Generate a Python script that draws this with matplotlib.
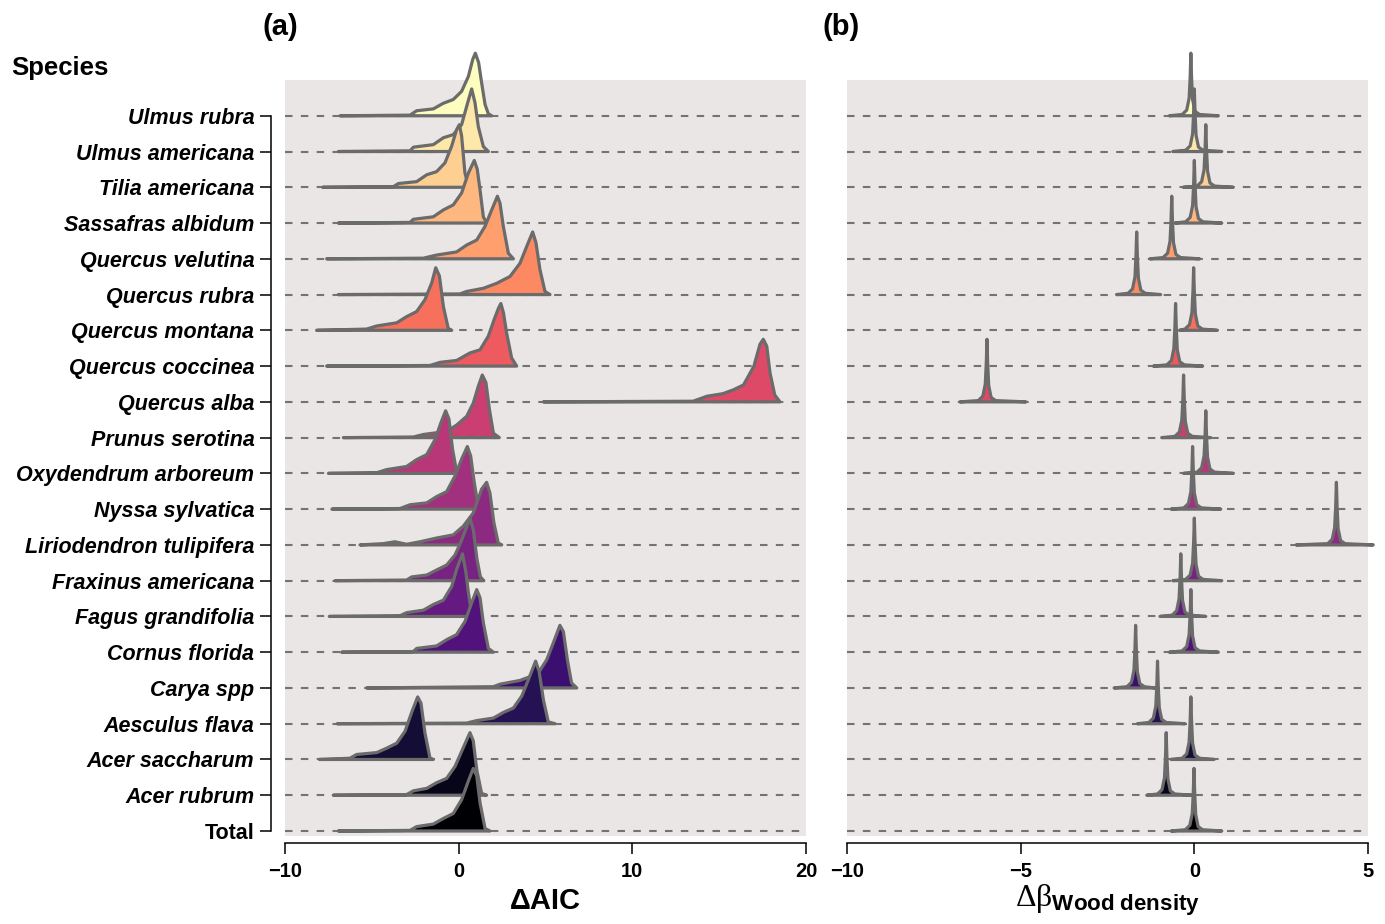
import matplotlib

matplotlib.use("Agg")
import matplotlib.pyplot as plt

plt.rcParams["font.family"] = ["Liberation Sans", "DejaVu Sans"]
plt.rcParams["mathtext.fontset"] = "custom"
plt.rcParams["mathtext.rm"] = "Liberation Serif"
plt.rcParams["mathtext.it"] = "Liberation Serif"
plt.rcParams["mathtext.bf"] = "Liberation Sans:bold"

# rows, bottom to top
SPECIES = ["Total", "Acer rubrum", "Acer saccharum", "Aesculus flava",
           "Carya spp", "Cornus florida", "Fagus grandifolia",
           "Fraxinus americana", "Liriodendron tulipifera", "Nyssa sylvatica",
           "Oxydendrum arboreum", "Prunus serotina", "Quercus alba",
           "Quercus coccinea", "Quercus montana", "Quercus rubra",
           "Quercus velutina", "Sassafras albidum", "Tilia americana",
           "Ulmus americana", "Ulmus rubra"]

# delta AIC ridges: knot positions and relative density (peak = 1)
AIC_X = [
    [-6.93, -2.8, -2.42, -1.46, -0.88, -0.31, 0.17, 0.56, 0.84, 1.04, 1.23, 1.52, 1.8],
    [-7.22, -3.0, -2.61, -1.84, -1.27, -0.69, -0.21, 0.17, 0.65, 0.84, 1.04, 1.32, 1.61],
    [-8.02, -6.26, -5.87, -4.72, -4.15, -3.57, -3.09, -2.71, -2.36, -2.17, -1.94, -1.65, -1.46],
    [-7.0, 0.46, 1.04, 2.0, 2.57, 3.15, 3.63, 4.01, 4.43, 4.63, 4.88, 5.16, 5.55],
    [-5.3, 2.0, 2.38, 3.53, 4.11, 4.68, 5.07, 5.45, 5.83, 6.03, 6.26, 6.5, 6.8],
    [-6.74, -2.61, -2.42, -1.27, -0.69, -0.12, 0.36, 0.75, 1.04, 1.23, 1.42, 1.71, 2.0],
    [-7.45, -3.38, -3.0, -2.03, -1.46, -0.88, -0.4, -0.12, 0.22, 0.42, 0.56, 0.75, 0.9],
    [-7.12, -3.0, -2.7, -1.84, -1.27, -0.69, -0.21, 0.1, 0.45, 0.65, 0.85, 1.05, 1.25, 1.45],
    [-5.68, -4.34, -3.67, -3.0, -2.23, -1.27, -0.31, 0.27, 0.84, 1.32, 1.61, 1.8, 2.03, 2.28, 2.48],
    [-7.3, -3.38, -2.8, -1.84, -1.27, -0.69, -0.21, 0.17, 0.5, 0.69, 0.9, 1.13, 1.32],
    [-7.5, -4.72, -4.15, -3.0, -2.42, -1.84, -1.36, -1.02, -0.75, -0.56, -0.35, -0.12, 0.08],
    [-6.64, -2.61, -2.03, -0.69, -0.12, 0.46, 0.84, 1.13, 1.36, 1.57, 1.77, 2.0, 2.34],
    [4.88, 13.5, 14.3, 15.2, 15.8, 16.4, 17.0, 17.35, 17.54, 17.74, 17.93, 18.2, 18.5],
    [-7.6, -1.65, -1.07, -0.12, 0.65, 1.23, 1.71, 2.05, 2.3, 2.43, 2.58, 2.76, 3.05, 3.34],
    [-8.18, -5.3, -4.72, -3.57, -2.99, -2.42, -1.94, -1.55, -1.32, -1.11, -0.88, -0.6, -0.4],
    [-6.93, 0.08, 0.46, 1.42, 2.19, 2.96, 3.53, 3.92, 4.26, 4.45, 4.68, 4.97, 5.26],
    [-7.6, -2.03, -1.27, -0.12, 0.46, 1.04, 1.52, 1.9, 2.23, 2.38, 2.57, 2.86, 3.15],
    [-6.93, -2.8, -2.61, -1.46, -0.88, -0.31, 0.17, 0.56, 0.9, 1.07, 1.23, 1.42, 1.61],
    [-7.83, -3.76, -3.47, -2.42, -1.84, -1.27, -0.79, -0.4, -0.12, 0.04, 0.17, 0.36, 0.56, 0.66],
    [-6.93, -2.8, -2.6, -1.46, -0.88, -0.31, 0.17, 0.52, 0.75, 0.94, 1.13, 1.42, 1.71],
    [-6.83, -2.8, -2.42, -1.46, -0.88, -0.31, 0.17, 0.56, 0.81, 0.96, 1.15, 1.32, 1.52, 1.71, 1.9],
]
AIC_H = [
    [0, 0.01, 0.07, 0.11, 0.2, 0.28, 0.5, 0.8, 1.0, 0.88, 0.45, 0.04, 0],
    [0, 0.01, 0.07, 0.11, 0.2, 0.27, 0.46, 0.7, 1.0, 0.87, 0.41, 0.03, 0],
    [0, 0.02, 0.08, 0.11, 0.18, 0.26, 0.45, 0.75, 1.0, 0.9, 0.42, 0.02, 0],
    [0, 0.01, 0.05, 0.09, 0.18, 0.25, 0.44, 0.7, 1.0, 0.84, 0.38, 0.03, 0],
    [0, 0.02, 0.06, 0.12, 0.18, 0.28, 0.45, 0.72, 1.0, 0.9, 0.45, 0.08, 0],
    [0, 0.01, 0.06, 0.1, 0.2, 0.28, 0.49, 0.79, 1.0, 0.87, 0.47, 0.06, 0],
    [0, 0.01, 0.06, 0.1, 0.19, 0.26, 0.48, 0.75, 1.0, 0.7, 0.38, 0.05, 0],
    [0, 0.01, 0.06, 0.09, 0.17, 0.25, 0.41, 0.6, 0.85, 1.0, 0.8, 0.35, 0.06, 0],
    [0, 0.02, 0.05, 0.01, 0.05, 0.11, 0.16, 0.3, 0.51, 0.89, 1.0, 0.83, 0.35, 0.03, 0],
    [0, 0.01, 0.07, 0.1, 0.2, 0.28, 0.53, 0.8, 1.0, 0.85, 0.42, 0.03, 0],
    [0, 0.01, 0.06, 0.11, 0.22, 0.3, 0.54, 0.81, 1.0, 0.87, 0.38, 0.03, 0],
    [0, 0.01, 0.05, 0.1, 0.2, 0.34, 0.55, 0.82, 1.0, 0.88, 0.45, 0.07, 0],
    [0, 0.01, 0.09, 0.13, 0.19, 0.27, 0.57, 0.92, 1.0, 0.89, 0.46, 0.11, 0],
    [0, 0.01, 0.06, 0.09, 0.21, 0.26, 0.48, 0.75, 0.93, 1.0, 0.85, 0.53, 0.13, 0],
    [0, 0.02, 0.07, 0.12, 0.22, 0.3, 0.49, 0.76, 1.0, 0.87, 0.38, 0.03, 0],
    [0, 0.01, 0.05, 0.1, 0.18, 0.29, 0.5, 0.77, 1.0, 0.83, 0.4, 0.05, 0],
    [0, 0.01, 0.06, 0.11, 0.22, 0.3, 0.52, 0.78, 1.0, 0.89, 0.52, 0.09, 0],
    [0, 0.01, 0.06, 0.1, 0.21, 0.29, 0.48, 0.8, 1.0, 0.86, 0.53, 0.1, 0],
    [0, 0.01, 0.06, 0.09, 0.2, 0.25, 0.39, 0.66, 0.92, 1.0, 0.82, 0.23, 0.02, 0],
    [0, 0.01, 0.07, 0.11, 0.22, 0.27, 0.43, 0.78, 1.0, 0.78, 0.4, 0.08, 0],
    [0, 0.01, 0.08, 0.11, 0.2, 0.26, 0.39, 0.63, 0.9, 1.0, 0.85, 0.53, 0.18, 0.03, 0],
]

# delta beta (wood density) ridges: very narrow spikes
WD_X = [
    [-0.67, -0.26, -0.13, -0.06, -0.03, -0.01, 0.01, 0.04, 0.11, 0.24, 0.79],
    [-1.37, -1.06, -0.93, -0.86, -0.83, -0.81, -0.79, -0.76, -0.69, -0.56, -0.03],
    [-0.67, -0.35, -0.22, -0.15, -0.12, -0.10, -0.08, -0.05, 0.02, 0.15, 0.57],
    [-1.64, -1.31, -1.18, -1.11, -1.08, -1.06, -1.04, -1.01, -0.94, -0.81, -0.27],
    [-2.31, -1.94, -1.81, -1.74, -1.71, -1.69, -1.67, -1.64, -1.57, -1.44, -1.13],
    [-0.72, -0.35, -0.22, -0.15, -0.12, -0.10, -0.08, -0.05, 0.02, 0.15, 0.69],
    [-0.99, -0.64, -0.51, -0.44, -0.41, -0.39, -0.37, -0.34, -0.27, -0.14, 0.33],
    [-0.62, -0.25, -0.12, -0.05, -0.02, 0.00, 0.02, 0.05, 0.12, 0.25, 0.79],
    [2.93, 3.84, 3.97, 4.04, 4.07, 4.09, 4.11, 4.14, 4.21, 4.34, 5.15],
    [-0.67, -0.30, -0.17, -0.10, -0.07, -0.05, -0.03, 0.00, 0.07, 0.20, 0.76],
    [-0.31, 0.08, 0.21, 0.28, 0.31, 0.33, 0.35, 0.38, 0.45, 0.58, 1.12],
    [-0.94, -0.56, -0.43, -0.36, -0.33, -0.31, -0.29, -0.26, -0.19, -0.06, 0.47],
    [-6.75, -6.22, -6.09, -6.02, -5.99, -5.97, -5.95, -5.92, -5.85, -5.72, -4.85],
    [-1.18, -0.79, -0.66, -0.59, -0.56, -0.54, -0.52, -0.49, -0.42, -0.29, 0.24],
    [-0.43, -0.27, -0.14, -0.07, -0.04, -0.02, 0.00, 0.03, 0.10, 0.23, 0.66],
    [-2.24, -1.91, -1.78, -1.71, -1.68, -1.66, -1.64, -1.61, -1.54, -1.41, -0.97],
    [-1.28, -0.90, -0.77, -0.70, -0.67, -0.65, -0.63, -0.60, -0.53, -0.40, 0.15],
    [-0.56, -0.25, -0.12, -0.05, -0.02, 0.00, 0.02, 0.05, 0.12, 0.25, 0.79],
    [-0.32, 0.08, 0.21, 0.28, 0.31, 0.33, 0.35, 0.38, 0.45, 0.58, 1.12],
    [-0.62, -0.25, -0.12, -0.05, -0.02, 0.00, 0.02, 0.05, 0.12, 0.25, 0.79],
    [-0.72, -0.35, -0.22, -0.15, -0.12, -0.10, -0.08, -0.05, 0.02, 0.15, 0.69],
]
WD_H = [0, 0.02, 0.09, 0.28, 0.62, 1.0, 0.62, 0.26, 0.07, 0.02, 0]

AIC_TICKS = [-10, 0, 10, 20]
WD_TICKS = [-10, -5, 0, 5]

SCALE = 1.75          # ridge peak height in row units
EDGE = "#6b6b6b"
DASH = "#737373"
PANEL = "#eae6e5"
cmap = plt.get_cmap("magma")
COLORS = [cmap(i / (len(SPECIES) - 1)) for i in range(len(SPECIES))]

W, H = 1385, 924
fig = plt.figure(figsize=(W / 100, H / 100), dpi=100)
ax_a = fig.add_axes([285 / W, 1 - 836 / H, 521 / W, 756 / H])
ax_b = fig.add_axes([847 / W, 1 - 836 / H, 521 / W, 756 / H])


def ridges(ax, xs, hs):
    n = len(SPECIES)
    for i in range(n):
        ax.axhline(i, color=DASH, lw=1.5, dashes=(3.6, 4.0), zorder=1)
    # top rows first so lower ridges sit in front
    for i in range(n - 1, -1, -1):
        y = [i + SCALE * v for v in hs[i]]
        ax.fill(xs[i], y, facecolor=COLORS[i], edgecolor=EDGE, lw=2.3,
                joinstyle="round", zorder=3 + (n - i), clip_on=False)


ridges(ax_a, AIC_X, AIC_H)
ridges(ax_b, WD_X, [WD_H] * len(SPECIES))

for ax, ticks in ((ax_a, AIC_TICKS), (ax_b, WD_TICKS)):
    ax.set_facecolor(PANEL)
    ax.set_xlim(ticks[0], ticks[-1])
    ax.set_ylim(-0.14, 21.0)
    ax.set_xticks(ticks)
    ax.set_xticklabels([f"{t:d}".replace("-", "\u2212") for t in ticks])
    for s in ("top", "right"):
        ax.spines[s].set_visible(False)
    ax.spines["bottom"].set_position(("outward", 5))
    ax.spines["bottom"].set_bounds(ticks[0], ticks[-1])
    ax.spines["bottom"].set_linewidth(1.1)
    ax.tick_params(axis="x", length=8, width=1.1, pad=6, labelsize=14.5)
    for lab in ax.get_xticklabels():
        lab.set_fontweight("bold")

ax_a.spines["left"].set_position(("outward", 10))
ax_a.spines["left"].set_bounds(0, len(SPECIES) - 1)
ax_a.spines["left"].set_linewidth(1.1)
ax_a.set_yticks(range(len(SPECIES)))
ax_a.set_yticklabels(SPECIES)
ax_a.tick_params(axis="y", length=8, width=1.1, pad=4, labelsize=15.5)
for lab in ax_a.get_yticklabels():
    lab.set_fontweight("bold")
    if lab.get_text() != "Total":
        lab.set_fontstyle("italic")

ax_b.spines["left"].set_visible(False)
ax_b.set_yticks([])

ax_a.set_xlabel("\u0394AIC", fontsize=21, fontweight="bold", labelpad=4)
ax_b.set_xlabel(r"$\Delta\beta_{\mathbf{Wood\ density}}$", fontsize=23,
                labelpad=1)

fig.text(262 / W, 1 - 27 / H, "(a)", fontsize=21, fontweight="bold",
         va="center", ha="left")
fig.text(823 / W, 1 - 27 / H, "(b)", fontsize=21, fontweight="bold",
         va="center", ha="left")
fig.text(11 / W, 1 - 68 / H, "Species", fontsize=18.5, fontweight="bold",
         va="center", ha="left")

fig.savefig("out.png", dpi=100)
